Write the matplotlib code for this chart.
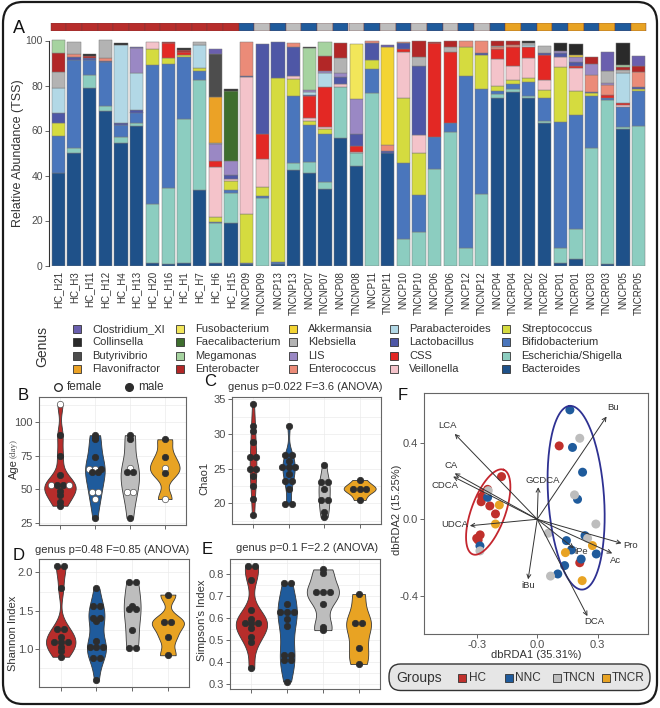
import numpy as np
import matplotlib
matplotlib.use('Agg')
import matplotlib.pyplot as plt
from matplotlib.patches import Rectangle, FancyBboxPatch
from matplotlib.lines import Line2D
from matplotlib.ticker import AutoMinorLocator

plt.rcParams['font.family'] = ['Liberation Sans', 'DejaVu Sans']
plt.rcParams['axes.unicode_minus'] = False

# ---------------- data: panel A ----------------
samples = ['HC_H21', 'HC_H3', 'HC_H11', 'HC_H12', 'HC_H4', 'HC_H13', 'HC_H20', 'HC_H16',
           'HC_H1', 'HC_H7', 'HC_H6', 'HC_H15', 'NNCP09', 'TNCNP09', 'NNCP13', 'TNCNP13',
           'NNCP07', 'TNCNP07', 'NNCP08', 'TNCNP08', 'NNCP11', 'TNCNP11', 'NNCP10', 'TNCNP10',
           'NNCP06', 'TNCNP06', 'NNCP12', 'TNCNP12', 'NNCP04', 'TNCRP04', 'NNCP02', 'TNCRP02',
           'NNCP01', 'TNCRP01', 'NNCP03', 'TNCRP03', 'NNCP05', 'TNCRP05']

bacteroides = [41.0, 50.2, 79.0, 68.7, 54.3, 62.0, 1.0, 0.8, 1.3, 33.5,
               1.0, 18.7, 0.5, 0.0, 0.5, 42.4, 41.3, 33.9, 56.5, 44.2,
               0.0, 49.8, 0.0, 0.0, 0.0, 0.0, 0.0, 0.0, 74.3, 77.3,
               74.3, 63.5, 1.3, 2.8, 0.0, 0.5, 60.8, 0.0]
escherichia = [0.0, 1.9, 5.7, 2.2, 2.7, 1.2, 26.3, 33.5, 64.0, 49.0,
               17.7, 13.7, 0.0, 30.1, 0.0, 3.3, 4.9, 3.4, 23.0, 5.6,
               76.5, 0.0, 11.6, 15.0, 42.8, 59.5, 7.6, 31.8, 1.8, 1.0,
               1.0, 0.9, 6.3, 13.3, 52.1, 73.1, 0.9, 62.1]
bifido = [16.6, 39.4, 6.6, 19.4, 5.5, 4.8, 61.8, 55.3, 27.5, 4.0,
          0.8, 1.2, 0.5, 0.8, 1.0, 29.8, 16.3, 21.1, 0.0, 0.0,
          10.7, 0.0, 34.1, 16.3, 14.5, 3.7, 76.6, 46.5, 1.6, 2.4,
          6.1, 9.9, 56.3, 50.8, 23.2, 0.7, 8.9, 15.6]
strep = [5.9, 0, 0, 0, 0, 0, 7.1, 2.5, 0.8, 1.2,
         1.9, 4.1, 21.7, 4.1, 82.0, 7.2, 1.7, 2.1, 0, 0,
         4.1, 0, 28.6, 18.6, 0, 0, 13.1, 15.3, 2.1, 1.8,
         1.8, 3.7, 24.2, 10.8, 1.2, 0, 0, 0.8]
veill = [0, 0, 0, 0, 0, 0, 3.0, 0, 0, 0,
         22.5, 0.7, 60.9, 12.2, 0, 1.7, 1.2, 1.2, 1.2, 0.8,
         0, 0, 20.6, 8.1, 0, 0, 0, 0, 11.8, 6.2,
         8.9, 4.4, 4.7, 9.9, 0, 0, 0.8, 0]
css = [0, 0, 0, 0, 0, 0, 0, 6.7, 1.2, 0,
       2.5, 0, 0, 11.1, 0, 0, 10.1, 17.8, 0, 2.5,
       0, 0, 1.2, 0, 41.5, 31.8, 0, 0, 4.5, 8.6,
       4.9, 11.2, 0, 1.1, 0, 1.5, 1.0, 0]
lacto = [4.1, 1.2, 0.8, 0.8, 0.7, 1.1, 0, 0, 0, 0,
         0, 1.8, 0.6, 40.0, 16.0, 12.6, 0.5, 0, 3.2, 5.3,
         7.7, 1.2, 2.7, 30.7, 0, 0, 0, 0.7, 0, 0,
         0, 0.7, 1.5, 1.9, 0.8, 0, 0, 0.7]
parab = [11.4, 0, 0, 0, 35.0, 16.3, 0, 0, 0, 10.4,
         0, 0, 0, 0, 0, 0, 1.0, 5.9, 0, 0,
         0, 0, 0, 0, 0, 0, 0, 0, 0, 0,
         1.0, 0, 0, 0, 0, 0, 13.3, 0]
enteroc = [0, 1.5, 0, 1.0, 0, 0, 0, 0, 0, 0,
           0, 0, 15.3, 0, 0, 1.7, 0, 0, 0, 0,
           0.8, 2.6, 0.7, 0, 0, 0, 2.5, 5.5, 0.8, 0.7,
           0, 0, 0, 0, 7.4, 4.4, 0, 7.0]
lis = [0, 0, 0, 0, 0, 11.4, 0, 0, 0, 0,
       7.5, 6.4, 0, 0, 0, 0, 0.8, 1.1, 1.5, 15.6,
       0, 0, 0, 0, 0, 0, 0, 0, 0, 0,
       0, 0, 1.2, 2.2, 4.9, 1.1, 0, 0]
kleb = [7.1, 5.3, 0, 7.9, 0, 0, 0, 0, 0, 1.4,
        0.7, 0, 0, 0, 0, 0, 0, 0, 6.7, 0,
        0, 0, 0, 4.1, 0, 2.3, 0, 0, 0.7, 0,
        1.0, 3.4, 0, 0, 0, 5.3, 1.2, 0]
akk = [0, 0, 0, 0, 0, 0, 0, 0, 0, 0,
       0, 0, 0, 0, 0, 0, 0, 0, 0, 0,
       0, 43.4, 0, 0, 0, 0, 0, 0, 0, 0,
       0, 0, 0, 0.8, 0, 0, 0, 0]
enterobacter = [8.5, 0, 1.2, 0, 0, 0, 0, 0.7, 1.2, 0,
                0, 0, 0, 0, 0, 0, 0, 6.6, 6.9, 0,
                0, 0, 0, 7.0, 0.7, 2.5, 0, 0, 2.2, 1.8,
                0, 0, 0, 0, 3.2, 0, 1.5, 2.5]
megamonas = [5.4, 0, 0, 0, 0, 0, 0, 0, 0, 0,
             0, 0, 0, 0, 0, 0, 18.7, 6.4, 0, 0,
             0, 0, 0, 0, 0, 0, 0, 0, 0, 0,
             0, 0, 0, 0, 0, 0, 0.7, 0]
faecali = [0, 0, 0, 0, 0, 0, 0, 0, 0, 0,
           0, 31.1, 0, 0, 0, 0, 0, 0, 0, 0,
           0, 0, 0, 0, 0, 0, 0, 0, 0, 0,
           0, 0, 0, 0, 0, 0, 0, 0]
fuso = [0, 0, 0, 0, 0, 0, 0, 0, 0, 0,
        0, 0, 0, 0, 0, 0, 0, 0, 0, 24.4,
        0, 0, 0, 0, 0, 0, 0, 0, 0, 0,
        0, 0, 0, 0, 0, 0, 0, 0]
flavon = [0, 0, 0, 0, 0, 0, 0, 0, 0, 0,
          20.1, 0, 0, 0, 0, 0, 0, 0, 0, 0,
          0, 0, 0, 0, 0, 0, 0, 0, 0, 0,
          0, 0, 0, 0, 0, 0, 0, 0]
butyr = [0, 0, 0, 0, 0, 0, 0, 0, 0, 0,
         19.3, 0, 0, 0, 0, 0, 0, 0, 0, 0,
         0, 0, 0, 0, 0, 0, 0, 0, 0, 0,
         0, 0, 0, 0, 0, 0, 0, 0]
collins = [0, 0, 0.5, 0, 0.8, 0, 0, 0, 0.5, 0,
           0, 0.6, 0, 0, 0, 0, 0.5, 0, 0, 0,
           0, 0, 0, 0, 0, 0, 0, 0, 0, 0,
           0.8, 0, 3.2, 4.7, 0, 0, 9.9, 0]
clostxi = [0, 0, 0, 0, 0, 0.5, 0, 0, 0, 0,
           2.1, 0, 0, 0, 0, 0, 0, 0, 0, 0,
           0, 1.0, 0, 0, 0, 0, 0, 0, 0, 0,
           0, 0, 0, 0, 0, 8.4, 0, 4.6]

# bottom-to-top stacking order
genus_names = ['Bacteroides', 'Escherichia/Shigella', 'Bifidobacterium', 'Streptococcus',
               'Veillonella', 'CSS', 'Lactobacillus', 'Parabacteroides', 'Enterococcus', 'LIS',
               'Klebsiella', 'Akkermansia', 'Enterobacter', 'Megamonas', 'Faecalibacterium',
               'Fusobacterium', 'Flavonifractor', 'Butyrivibrio', 'Collinsella', 'Clostridium_XI']
genus_values = [bacteroides, escherichia, bifido, strep, veill, css, lacto, parab, enteroc, lis,
                kleb, akk, enterobacter, megamonas, faecali, fuso, flavon, butyr, collins, clostxi]
genus_colors = ['#1F5189', '#8CCDC0', '#4A76BC', '#D5DB3F', '#F4C3CA', '#E32824', '#4E57A6',
                '#B2D8E6', '#EB8B78', '#9A88C4', '#B3B3B3', '#F3D433', '#B22727', '#A6D3A0',
                '#3E6E2E', '#F2E65A', '#EBA226', '#4D4D4D', '#2A2A2A', '#6A5FAE']

group_names = ['HC', 'NNC', 'TNCN', 'TNCR']
group_colors = ['#B72D2B', '#1F5B9C', '#BDBDBD', '#E8A323']

# ---------------- data: panels B-E ----------------
age_vals = [[113, 90, 75, 61, 53, 53, 53, 53, 49, 46, 41, 38],
            [90, 88, 87, 74, 65, 65, 65, 63, 63, 48, 48, 43, 29],
            [90, 87, 66, 63, 63, 48, 48, 29],
            [87, 74, 66, 62, 43]]
age_female = [[1, 0, 0, 0, 1, 0, 0, 1, 0, 0, 0, 0],
              [0, 0, 0, 0, 1, 1, 0, 0, 0, 1, 1, 1, 0],
              [0, 0, 1, 0, 0, 1, 1, 0],
              [0, 0, 1, 0, 1]]
chao_vals = [[34.3, 31.2, 30.5, 28.8, 26.7, 26.7, 25.0, 25.0, 24.0, 22.5, 20.6, 18.4],
             [31.2, 27.0, 27.0, 26.2, 25.2, 25.2, 25.2, 24.3, 23.3, 23.3, 22.1, 19.9, 19.9],
             [25.6, 23.1, 23.1, 22.1, 20.5, 20.5, 18.8, 18.0],
             [23.4, 22.1, 22.1, 22.1, 20.5]]
shannon_vals = [[2.08, 2.08, 1.79, 1.26, 1.26, 1.16, 1.09, 1.09, 1.09, 1.03, 0.97, 0.90],
                [1.79, 1.56, 1.56, 1.40, 1.40, 1.36, 1.11, 1.03, 1.03, 1.03, 0.88, 0.88, 0.60],
                [1.88, 1.88, 1.56, 1.52, 1.52, 1.25, 1.02, 1.02],
                [1.71, 1.35, 1.35, 1.16, 0.92]]
simpson_vals = [[0.836, 0.836, 0.773, 0.636, 0.594, 0.576, 0.576, 0.576, 0.556, 0.512, 0.491, 0.371],
                [0.758, 0.758, 0.664, 0.629, 0.629, 0.629, 0.594, 0.565, 0.432, 0.432, 0.409, 0.409, 0.311],
                [0.821, 0.806, 0.720, 0.720, 0.720, 0.664, 0.561, 0.545],
                [0.709, 0.576, 0.576, 0.462, 0.391]]

# ---------------- data: panel F ----------------
rda_x = [[-0.177, -0.246, -0.275, -0.278, -0.235, -0.207, -0.283, -0.293, -0.300, 0.109, 0.211, -0.262],
         [0.162, 0.175, 0.225, 0.200, -0.246, -0.284, 0.145, 0.170, 0.218, 0.136, 0.102, 0.293, 0.237],
         [0.211, 0.185, -0.243, -0.284, 0.291, 0.055, 0.250, 0.066],
         [-0.188, -0.207, 0.140, 0.274, 0.223]]
rda_y = [[0.224, 0.157, 0.119, 0.092, 0.070, 0.028, -0.082, -0.109, -0.100, 0.385, -0.228, 0.140],
         [0.574, 0.377, 0.247, 0.105, 0.115, -0.140, -0.112, -0.161, -0.209, -0.243, -0.287, -0.182, -0.086],
         [0.425, 0.128, 0.150, -0.166, -0.025, -0.073, -0.100, -0.298],
         [0.075, -0.025, -0.175, -0.138, -0.322]]
env_names = ['Bu', 'LCA', 'CA', 'CDCA', 'UDCA', 'GCDCA', 'iBu', 'DCA', 'Pro', 'Ac', 'iPe']
env_x = [0.344, -0.409, -0.409, -0.417, -0.334, 0.005, -0.045, 0.249, 0.418, 0.372, 0.182]
env_y = [0.539, 0.448, 0.241, 0.224, -0.034, 0.168, -0.315, -0.508, -0.126, -0.179, -0.152]
env_lab_x = [0.377, -0.445, -0.425, -0.458, -0.407, 0.026, -0.045, 0.283, 0.464, 0.388, 0.220]
env_lab_y = [0.586, 0.491, 0.283, 0.175, -0.026, 0.203, -0.349, -0.537, -0.140, -0.214, -0.170]
ell_center = [(-0.243, 0.038), (0.193, 0.113)]
ell_major = [(0.0763, 0.222), (-0.0318, 0.482)]
ell_minor = [(-0.0792, 0.0305), (0.138, 0.0102)]
ell_colors = ['#C4262E', '#2E3192']

# ---------------- layout helpers ----------------
W, H = 660, 708
fig = plt.figure(figsize=(6.6, 7.08), dpi=100)


def fx(x):
    return x / W


def fy(y):
    return 1 - y / H


def add_ax(x0, y0, x1, y1):
    return fig.add_axes([fx(x0), fy(y1), (x1 - x0) / W, (y1 - y0) / H])


def ftext(x, y, s, **kw):
    fig.text(fx(x), fy(y), s, **kw)


TXT = '#333333'
TICK = '#4d4d4d'

# outer rounded frame
fig.add_artist(FancyBboxPatch((fx(3), fy(704)), 654 / W, 702 / H,
                              boxstyle='round,pad=0,rounding_size=0.03',
                              transform=fig.transFigure, fill=False, ec='#1a1a1a', lw=1.6))

# ---------------- panel A ----------------
n = len(samples)
xpos = np.arange(n)
sample_group = [0 if s.startswith('HC') else 1 if s.startswith('NNC') else
                2 if s.startswith('TNCN') else 3 for s in samples]

axs = add_ax(49, 22.7, 648, 30.7)
axs.bar(xpos, np.ones(n), width=1.0, color=[group_colors[g] for g in sample_group],
        edgecolor='#6e3a3a', linewidth=0.3)
axs.set_xlim(-0.6, n - 0.4)
axs.set_ylim(0, 1)
axs.axis('off')

axA = add_ax(49, 38.25, 648, 265.5)
bottom = np.zeros(n)
for vals, col in zip(genus_values, genus_colors):
    h = np.asarray(vals, dtype=float)
    lw = np.where(h > 0, 0.35, 0.0)
    axA.bar(xpos, h, bottom=bottom, width=0.85, color=col, edgecolor='#7a7a7a', linewidth=lw)
    bottom += h
axA.set_xlim(-0.6, n - 0.4)
axA.set_ylim(0, 101)
for sp in ['top', 'right', 'bottom']:
    axA.spines[sp].set_visible(False)
axA.spines['left'].set_color('#333333')
axA.spines['left'].set_linewidth(0.8)
axA.spines['left'].set_bounds(0, 100)
axA.set_yticks([0, 20, 40, 60, 80, 100])
axA.tick_params(axis='y', labelsize=7.5, colors=TICK, length=3, width=0.6, pad=1.5)
axA.set_xticks(xpos)
axA.set_xticklabels(samples, rotation=90, fontsize=7, color=TXT)
axA.tick_params(axis='x', length=0, pad=4)
ftext(18, 153, 'Relative Abundance (TSS)', rotation=90, ha='center', va='center',
      fontsize=9, color=TXT)
ftext(18.7, 28.5, 'A', fontsize=13, ha='center', va='center', color='#111111')

# genus legend
ftext(42, 347, 'Genus', rotation=90, ha='center', va='center', fontsize=10, color=TXT)
col_x = [73, 176, 289, 390, 502]
row_y = [329, 342.3, 355.7, 369]
legend_order = genus_names[::-1]
legend_cols = genus_colors[::-1]
for i, (nm, col) in enumerate(zip(legend_order, legend_cols)):
    c, r = i // 4, i % 4
    x0, yc = col_x[c], row_y[r]
    fig.add_artist(Rectangle((fx(x0), fy(yc + 4)), 8 / W, 8 / H, transform=fig.transFigure,
                             fc=col, ec='#333333', lw=0.6))
    ftext(x0 + 19, yc, nm, fontsize=8, va='center', ha='left', color=TXT)


# ---------------- violin helpers ----------------
def kde(vals, grid):
    v = np.asarray(vals, dtype=float)
    sd = v.std(ddof=1)
    q75, q25 = np.percentile(v, [75, 25])
    lo = min(sd, (q75 - q25) / 1.34)
    if lo <= 0:
        lo = sd
    bw = 0.9 * lo * len(v) ** (-0.2)
    z = (grid[:, None] - v[None, :]) / bw
    return np.exp(-0.5 * z ** 2).sum(axis=1) / (len(v) * bw * np.sqrt(2 * np.pi))


def dot_offsets(vals, dx):
    v = np.asarray(vals, dtype=float)
    offs = np.zeros(len(v))
    for u in np.unique(v):
        idx = np.where(v == u)[0]
        m = len(idx)
        offs[idx] = (np.arange(m) - (m - 1) / 2) * dx
    return offs


def violin_panel(ax, data, ylim, yticks, yticklabels, female=None, dx=0.18):
    grids, dens = [], []
    for vals in data:
        g = np.linspace(min(vals), max(vals), 256)
        grids.append(g)
        dens.append(kde(vals, g))
    scale = 0.45 / max(d.max() for d in dens)
    ax.set_xlim(0.4, 4.6)
    ax.set_ylim(*ylim)
    ax.set_axisbelow(True)
    ax.grid(True, which='both', color='#ebebeb', lw=0.5)
    ax.yaxis.set_minor_locator(AutoMinorLocator(2))
    for i, (g, d) in enumerate(zip(grids, dens)):
        pos = i + 1
        w = d * scale
        ax.fill_betweenx(g, pos - w, pos + w, facecolor=group_colors[i],
                         edgecolor='#3a3a3a', lw=0.6, zorder=2)
        offs = dot_offsets(data[i], dx)
        for k, v in enumerate(data[i]):
            fem = female is not None and female[i][k] == 1
            ax.plot(pos + offs[k], v, 'o', ms=4.6, mfc='white' if fem else '#2d2d2d',
                    mec='#555555' if fem else '#2d2d2d', mew=0.5, zorder=3)
    ax.set_xticks([1, 2, 3, 4])
    ax.set_xticklabels([])
    ax.set_yticks(yticks)
    ax.set_yticklabels(yticklabels)
    ax.tick_params(axis='both', which='major', labelsize=8, colors=TICK, length=3, width=0.6, pad=1.5)
    ax.tick_params(axis='y', which='minor', length=0)
    for sp in ax.spines.values():
        sp.set_color('#666666')
        sp.set_linewidth(0.8)


# ---------------- panel B ----------------
axB = add_ax(39, 396.7, 185.7, 525)
violin_panel(axB, age_vals, (23.8, 118.4), [25, 50, 75, 100], ['25', '50', '75', '100'],
             female=age_female, dx=0.18)
ftext(23, 396, 'B', fontsize=12, ha='center', va='center', color='#111111')
ftext(13.5, 469, 'Age', rotation=90, ha='center', va='center', fontsize=8, color=TXT)
ftext(13.5, 449, '(day)', rotation=90, ha='center', va='center', fontsize=6.5, color='#555555',
      family=['Liberation Serif', 'DejaVu Serif'])
fig.add_artist(Line2D([fx(58.3)], [fy(386.7)], marker='o', ms=5.5, mfc='white', mec='#222222',
                      mew=0.9, transform=fig.transFigure))
ftext(66.5, 386.7, 'female', fontsize=8.5, va='center', ha='left', color=TXT)
fig.add_artist(Line2D([fx(129.3)], [fy(386.7)], marker='o', ms=5.5, mfc='#2d2d2d', mec='#2d2d2d',
                      transform=fig.transFigure))
ftext(138.3, 386.7, 'male', fontsize=8.5, va='center', ha='left', color=TXT)

# ---------------- panel C ----------------
axC = add_ax(231.7, 396.7, 381, 524.3)
violin_panel(axC, chao_vals, (17.0, 35.4), [20, 25, 30, 35], ['20', '25', '30', '35'], dx=0.19)
ftext(210, 381, 'C', fontsize=12, ha='center', va='center', color='#111111')
ftext(305, 386.7, 'genus p=0.022 F=3.6 (ANOVA)', fontsize=8, ha='center', va='center', color=TXT)
ftext(204.5, 478.3, 'Chao1', rotation=90, ha='center', va='center', fontsize=8, color=TXT)

# ---------------- panel D ----------------
axD = add_ax(39.3, 559.3, 189.3, 686.7)
violin_panel(axD, shannon_vals, (0.51, 2.17), [1.0, 1.5, 2.0], ['1.0', '1.5', '2.0'], dx=0.19)
ftext(19, 556, 'D', fontsize=12, ha='center', va='center', color='#111111')
ftext(112.5, 550, 'genus p=0.48 F=0.85 (ANOVA)', fontsize=8, ha='center', va='center', color=TXT)
ftext(13, 633, 'Shannon Index', rotation=90, ha='center', va='center', fontsize=8, color=TXT)

# ---------------- panel E ----------------
axE = add_ax(230, 559.3, 380, 689.3)
violin_panel(axE, simpson_vals, (0.276, 0.867), [0.3, 0.4, 0.5, 0.6, 0.7, 0.8],
             ['0.3', '0.4', '0.5', '0.6', '0.7', '0.8'], dx=0.19)
ftext(207.5, 549.5, 'E', fontsize=12, ha='center', va='center', color='#111111')
ftext(306.7, 548.3, 'genus p=0.1 F=2.2 (ANOVA)', fontsize=8, ha='center', va='center', color=TXT)
ftext(202, 620, "Simpson's Index", rotation=90, ha='center', va='center', fontsize=8, color=TXT)

# ---------------- panel F ----------------
axF = add_ax(424.3, 393.3, 648.3, 634)
axF.set_xlim(-0.560, 0.551)
axF.set_ylim(-0.602, 0.661)
for i in range(4):
    axF.scatter(rda_x[i], rda_y[i], s=42, color=group_colors[i] if i != 0 else '#C0302C',
                edgecolors='none', zorder=3)
t = np.linspace(0, 2 * np.pi, 200)
for c, a, b, col in zip(ell_center, ell_major, ell_minor, ell_colors):
    ex = c[0] + a[0] * np.cos(t) + b[0] * np.sin(t)
    ey = c[1] + a[1] * np.cos(t) + b[1] * np.sin(t)
    axF.plot(ex, ey, color=col, lw=1.3, zorder=4)
for nm, x, y, lx, ly in zip(env_names, env_x, env_y, env_lab_x, env_lab_y):
    axF.annotate('', xy=(x, y), xytext=(0, 0),
                 arrowprops=dict(arrowstyle='->', color='#333333', lw=0.7,
                                 shrinkA=0, shrinkB=0, mutation_scale=7), zorder=5)
    axF.text(lx, ly, nm, fontsize=6.8, ha='center', va='center', color=TXT, zorder=6)
axF.set_xticks([-0.3, 0.0, 0.3])
axF.set_xticklabels(['-0.3', '0.0', '0.3'])
axF.set_yticks([-0.4, 0.0, 0.4])
axF.set_yticklabels(['-0.4', '0.0', '0.4'])
axF.tick_params(labelsize=8, colors=TICK, length=3, width=0.6, pad=1.5)
for sp in axF.spines.values():
    sp.set_color('#666666')
    sp.set_linewidth(0.8)
ftext(403, 396, 'F', fontsize=12, ha='center', va='center', color='#111111')
ftext(536.7, 655, 'dbRDA1 (35.31%)', fontsize=8, ha='center', va='center', color=TXT)
ftext(397.5, 510, 'dbRDA2 (15.25%)', rotation=90, fontsize=8, ha='center', va='center', color=TXT)

# groups legend
fig.add_artist(FancyBboxPatch((fx(389), fy(690.5)), 261 / W, 26.5 / H,
                              boxstyle='round,pad=0,rounding_size=0.0175',
                              transform=fig.transFigure, fc='#E6E6E6', ec='#333333', lw=1.0))
ftext(396.7, 678, 'Groups', fontsize=10, ha='left', va='center', color=TXT)
leg_sq_x = [458, 505, 552.7, 601.7]
for i, nm in enumerate(group_names):
    fig.add_artist(Rectangle((fx(leg_sq_x[i]), fy(682)), 8 / W, 8 / H, transform=fig.transFigure,
                             fc=group_colors[i] if i != 0 else '#C0302C', ec='#333333', lw=0.6))
    ftext(leg_sq_x[i] + 10.5, 678, nm, fontsize=8.5, ha='left', va='center', color=TXT)

fig.savefig('out.png', dpi=100)
